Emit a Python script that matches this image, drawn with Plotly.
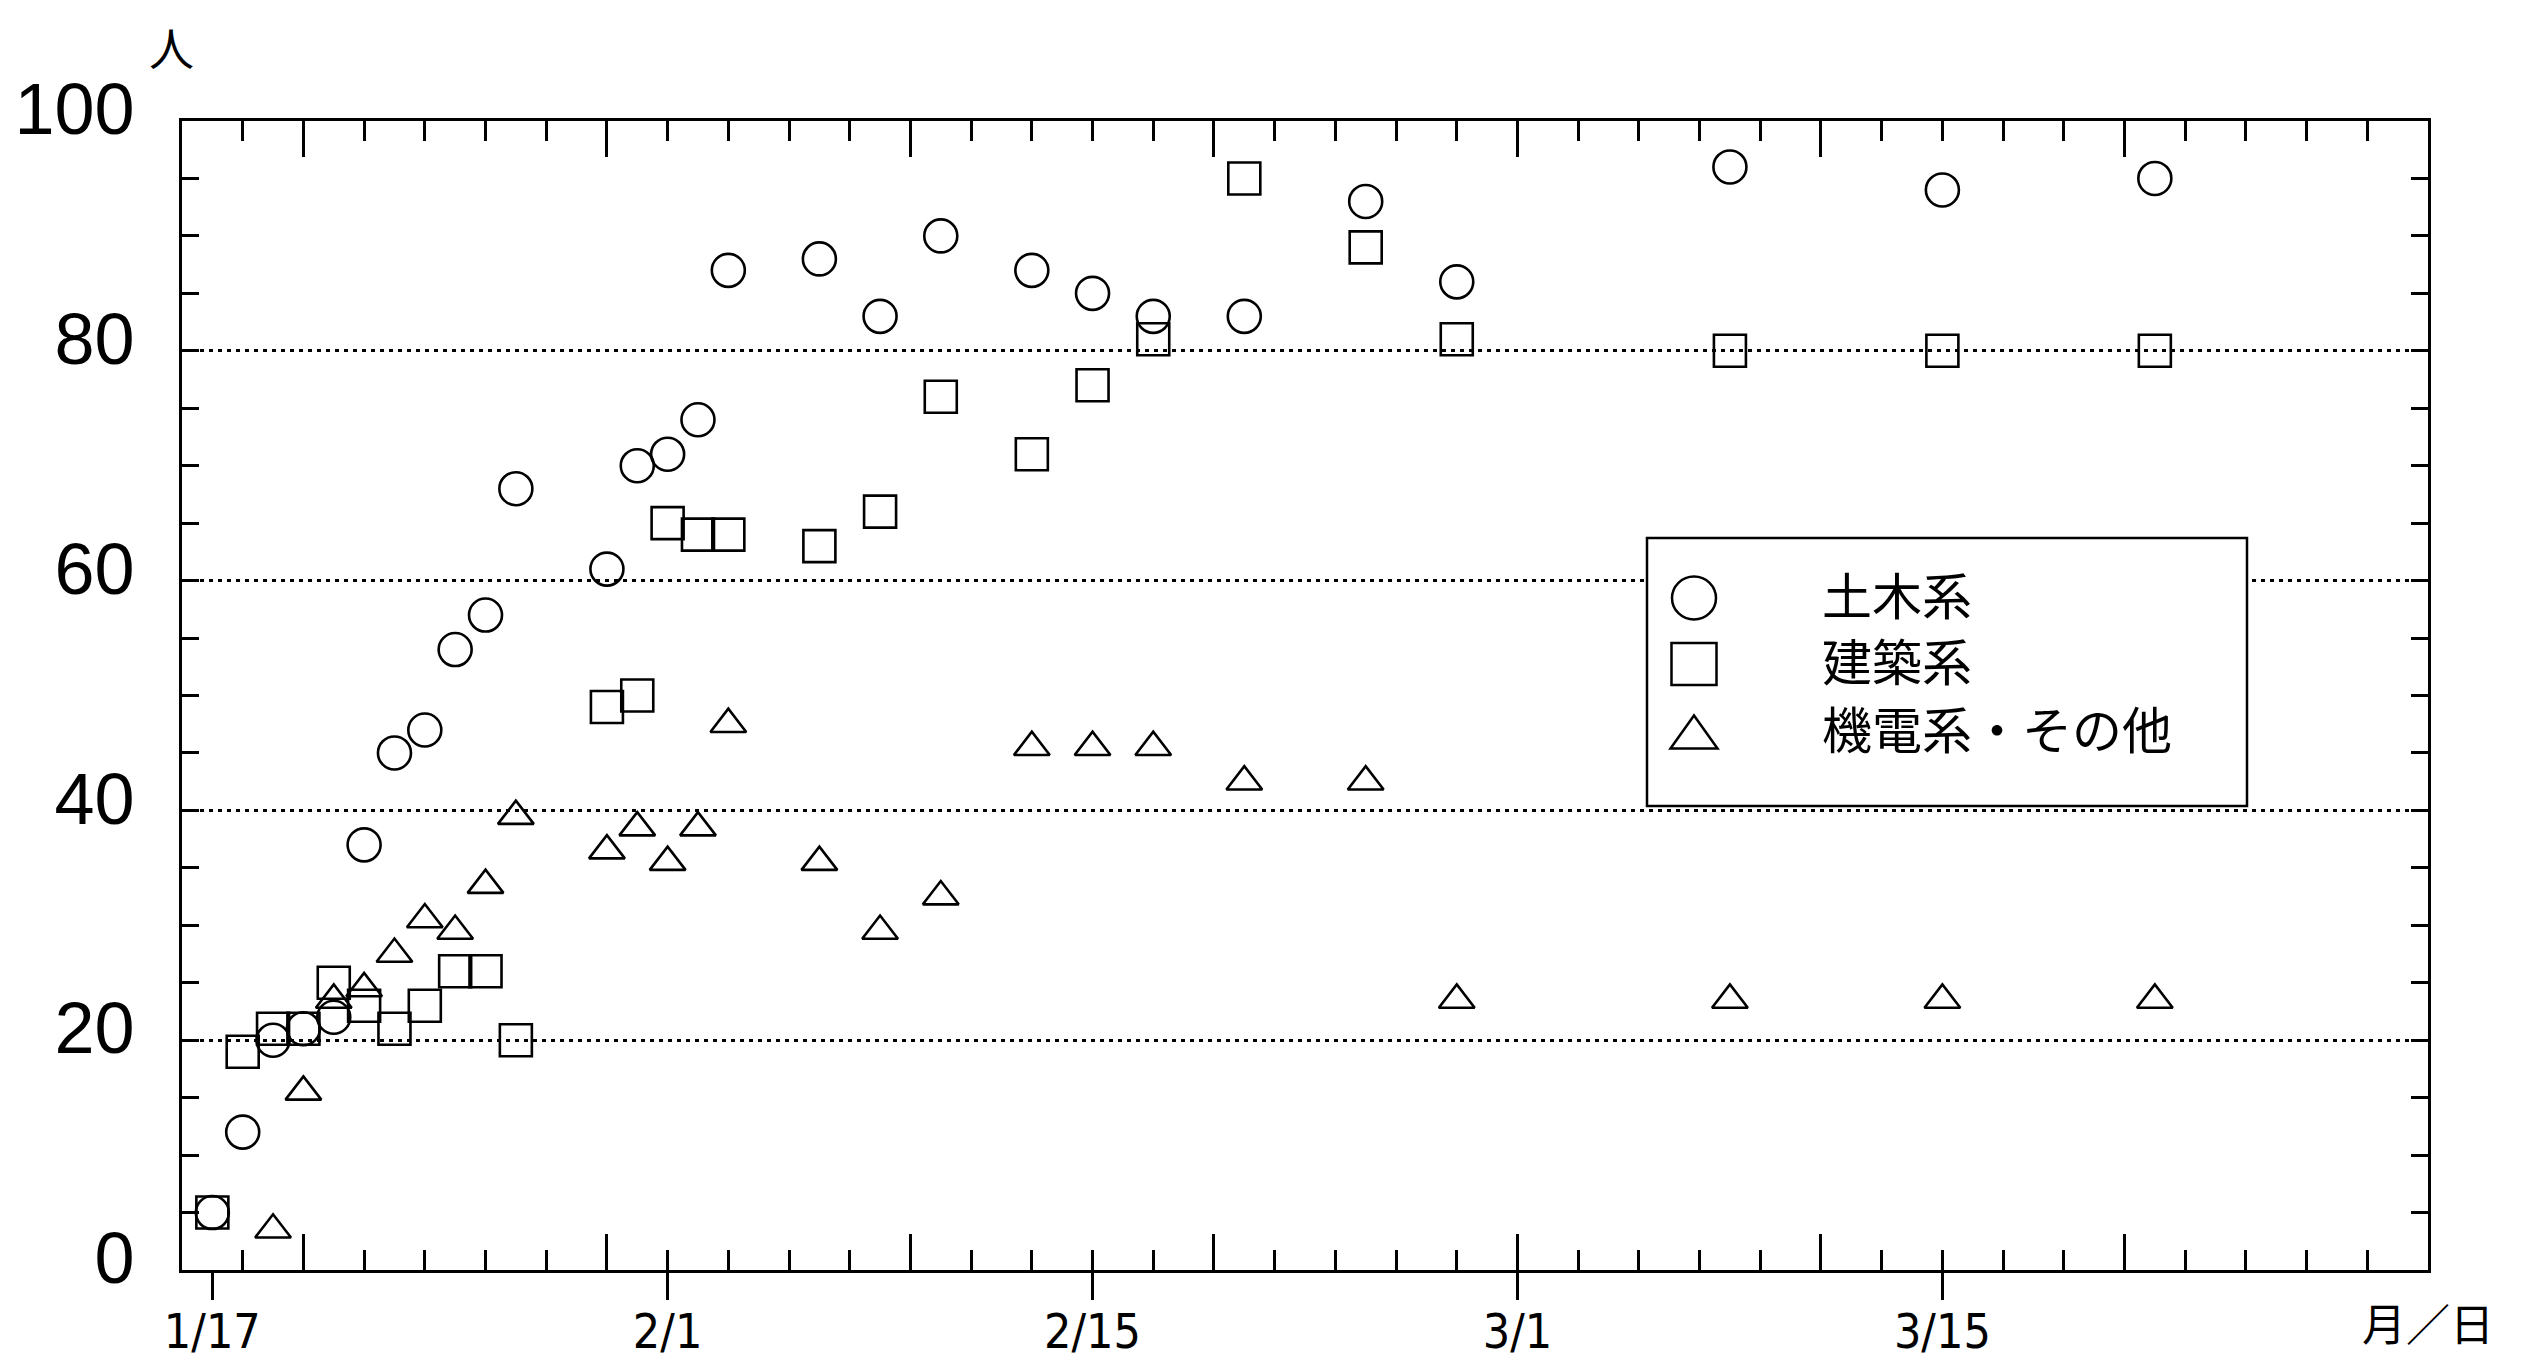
import plotly.graph_objects as go

# ---------------- data ----------------
dates = ["1995-01-17", "1995-01-18", "1995-01-19", "1995-01-20", "1995-01-21",
         "1995-01-22", "1995-01-23", "1995-01-24", "1995-01-25", "1995-01-26",
         "1995-01-27", "1995-01-30", "1995-01-31", "1995-02-01", "1995-02-02",
         "1995-02-03", "1995-02-06", "1995-02-08", "1995-02-10", "1995-02-13",
         "1995-02-15", "1995-02-17", "1995-02-20", "1995-02-24", "1995-02-27",
         "1995-03-08", "1995-03-15", "1995-03-22"]

doboku = [5, 12, 20, 21, 22, 37, 45, 47, 54, 57, 68, 61, 70, 71, 74, 87, 88, 83,
          90, 87, 85, 83, 83, 93, 86, 96, 94, 95]
kenchiku = [5, 19, 21, 21, 25, 23, 21, 23, 26, 26, 20, 49, 50, 65, 64, 64, 63, 66,
            76, 71, 77, 81, 95, 89, 81, 80, 80, 80]
kiden = [None, None, 3.5, 15.5, 23.5, 24.5, 27.5, 30.5, 29.5, 33.5, 39.5, 36.5,
         38.5, 35.5, 38.5, 47.5, 35.5, 29.5, 32.5, 45.5, 45.5, 45.5, 42.5, 42.5,
         23.5, 23.5, 23.5, 23.5]

series_names = ["土木系", "建築系", "機電系・その他"]
tick_dates = ["1995-01-17", "1995-02-01", "1995-02-15", "1995-03-01", "1995-03-15"]
tick_labels = ["1/17", "2/1", "2/15", "3/1", "3/15"]
y_unit = "人"
x_unit = "月／日"

# ---------------- layout constants ----------------
PAGE = 8                      # default body margin of the html page
W, H = 2526 - 2 * PAGE, 1372 - 2 * PAGE
PLOT_L, PLOT_R, PLOT_T, PLOT_B = 182, 2428, 121, 1270   # screen px of plot area
L = PLOT_L - PAGE
T = PLOT_T - PAGE
R = W - (PLOT_R - PAGE)
B = H - (PLOT_B - PAGE)
PW = PLOT_R - PLOT_L
PH = PLOT_B - PLOT_T
DAY = 86400000
X_RANGE = ["1995-01-16", "1995-03-31"]

SANS = "Liberation Sans, Arial, sans-serif"
NARROW = "Liberation Sans Narrow, Arial Narrow, DejaVu Sans Condensed, Liberation Sans, sans-serif"
CJK = "Noto Sans CJK JP, Noto Sans CJK SC, sans-serif"


def px(sx):
    """screen x -> paper fraction"""
    return (sx - PLOT_L) / PW


def py(sy):
    """screen y -> paper fraction"""
    return (PLOT_B - sy) / PH


symbols = ["circle-open", "square-open", "triangle-up-open"]
sizes = [33, 32, 31]
values = [doboku, kenchiku, kiden]
xaxes = ["x", "x", "x2"]

fig = go.Figure()
for name, sym, sz, vals, xa in zip(series_names, symbols, sizes, values, xaxes):
    fig.add_trace(go.Scatter(
        x=dates, y=vals, mode="markers", name=name, xaxis=xa, yaxis="y",
        marker=dict(symbol=sym, size=sz, color="black", line=dict(width=2.6, color="black")),
    ))

fig.update_layout(
    width=W, height=H,
    margin=dict(l=L, r=R, t=T, b=B, autoexpand=False),
    paper_bgcolor="white", plot_bgcolor="white",
    showlegend=False,
    xaxis=dict(
        type="date", range=X_RANGE,
        tickmode="linear", tick0="1995-01-20", dtick=10 * DAY,
        ticks="inside", ticklen=36, tickwidth=2.5, tickcolor="black",
        showticklabels=False, showline=True, linecolor="black", linewidth=3,
        mirror="ticks", showgrid=False, zeroline=False, automargin=False,
        minor=dict(ticks="inside", ticklen=20, tickwidth=2.5, tickcolor="black",
                   tick0="1995-01-16", dtick=2 * DAY, showgrid=False),
    ),
    xaxis2=dict(
        type="date", overlaying="x", anchor="y", side="bottom",
        range=X_RANGE,
        tickmode="array", tickvals=tick_dates, ticktext=tick_labels,
        ticks="outside", ticklen=29, tickwidth=2.5, tickcolor="black",
        showline=False, showgrid=False, zeroline=False, automargin=False,
        tickfont=dict(family=NARROW, size=48, color="black"),
        ticklabelstandoff=-10,
    ),
    yaxis=dict(
        range=[0, 100], tickmode="linear", tick0=0, dtick=20,
        ticks="inside", ticklen=17, tickwidth=2.5, tickcolor="black",
        showline=True, linecolor="black", linewidth=3, mirror="ticks",
        showgrid=True, gridcolor="black", gridwidth=2.5, griddash="4px,5px",
        zeroline=False, automargin=False,
        tickfont=dict(family=SANS, size=72, color="black"),
        ticklabelstandoff=30, ticklabelshift=-12,
        minor=dict(ticks="inside", ticklen=17, tickwidth=2.5, tickcolor="black",
                   dtick=5, showgrid=False),
    ),
)

# ---------------- legend box (drawn) ----------------
LEG_X = 1694
LEG_ROWS = [598, 664, 732]
shapes = [
    dict(type="rect", xref="paper", yref="paper",
         x0=px(1647), x1=px(2247), y0=py(806), y1=py(538),
         line=dict(color="black", width=2.5), fillcolor="white", layer="above"),
    dict(type="circle", xref="paper", yref="paper", xsizemode="pixel", ysizemode="pixel",
         xanchor=px(LEG_X), yanchor=py(LEG_ROWS[0]), x0=-22, x1=22, y0=-21.5, y1=21.5,
         line=dict(color="black", width=2.5), layer="above"),
    dict(type="rect", xref="paper", yref="paper", xsizemode="pixel", ysizemode="pixel",
         xanchor=px(LEG_X), yanchor=py(LEG_ROWS[1]), x0=-22.5, x1=22.5, y0=-21, y1=21,
         line=dict(color="black", width=2.5), layer="above"),
    dict(type="path", xref="paper", yref="paper", xsizemode="pixel", ysizemode="pixel",
         xanchor=px(LEG_X), yanchor=py(LEG_ROWS[2]), path="M-23.5,-16.5 L23.5,-16.5 L0,16.5 Z",
         line=dict(color="black", width=2.5), layer="above"),
]
fig.update_layout(shapes=shapes)

annotations = []
for name, sy in zip(series_names, LEG_ROWS):
    annotations.append(dict(
        text=name, xref="paper", yref="paper", x=px(1820), y=py(sy - 5),
        xanchor="left", yanchor="middle", showarrow=False,
        font=dict(family=CJK, size=50, color="black")))
annotations.append(dict(
    text=y_unit, xref="paper", yref="paper", x=px(171), y=py(47),
    xanchor="center", yanchor="middle", showarrow=False,
    font=dict(family=CJK, size=45, color="black")))
annotations.append(dict(
    text=x_unit, xref="paper", yref="paper", x=px(2428), y=py(1322),
    xanchor="center", yanchor="middle", showarrow=False,
    font=dict(family=CJK, size=44, color="black")))
fig.update_layout(annotations=annotations)

fig.write_html("out.html")
